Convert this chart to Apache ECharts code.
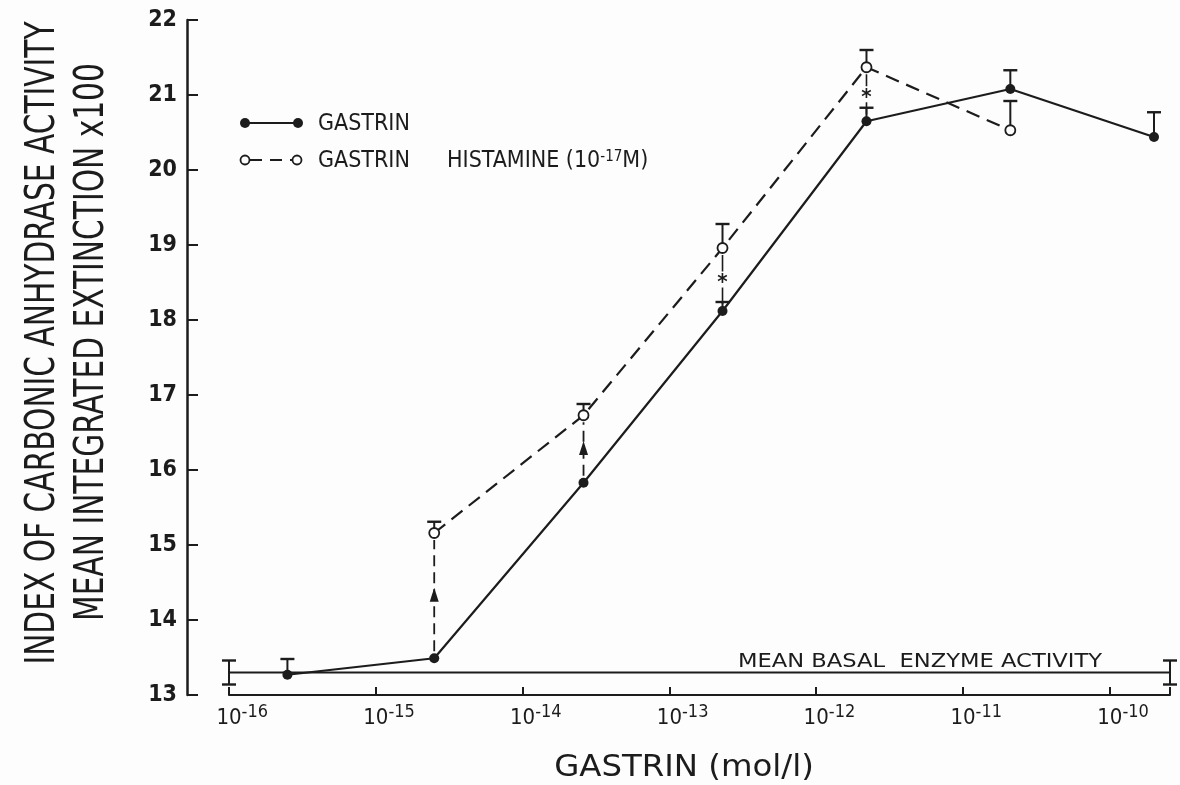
<!DOCTYPE html>
<html><head><meta charset="utf-8">
<script src="https://cdn.jsdelivr.net/npm/echarts@6/dist/echarts.min.js"></script>
<style>html,body{margin:0;padding:0;background:#fdfdfd}#c{width:1180px;height:785px}</style>
</head><body><div id="c"></div>
<script>
// ---- data ----
const concentrations = [2.5e-16, 2.5e-15, 2.6e-14, 2.3e-13, 2.2e-12, 2.1e-11, 2.0e-10]; // mol/l
const gastrin      = [13.27, 13.49, 15.83, 18.12, 20.65, 21.08, 20.44];
const gastrinSem   = [0.21, 0, 0, 0.12, 0.18, 0.25, 0.33];
const histConc     = [2.5e-15, 2.6e-14, 2.3e-13, 2.2e-12, 2.1e-11];
const histamine    = [15.16, 16.73, 18.96, 21.37, 20.53];
const histSem      = [0.15, 0.15, 0.32, 0.23, 0.39];
const basalMean    = 13.3;
const basalSem     = 0.16;
const basalEnds    = [1e-16, 2.57e-10];
const sigConc      = [2.5e-15, 2.6e-14, 2.3e-13, 2.2e-12];
const sigKind      = ['arrow', 'arrow', 'star', 'star'];
const xMin = 1e-16, xMax = 2.57e-10;
const yMin = 13, yMax = 22, yStep = 1;

const INK = '#1c1c1c';
const FC = '"DejaVu Sans Condensed","DejaVu Sans",sans-serif';
const FN = '"Liberation Sans Narrow","DejaVu Sans Condensed",sans-serif';

const gastrinData = concentrations.map((c, i) => [c, gastrin[i]]);
const histData = histConc.map((c, i) => [c, histamine[i]]);
const errData = [];
concentrations.forEach((c, i) => { if (gastrinSem[i] > 0) errData.push([c, gastrin[i], gastrinSem[i], 0]); });
histConc.forEach((c, i) => { if (histSem[i] > 0) errData.push([c, histamine[i], histSem[i], 0]); });
basalEnds.forEach(c => errData.push([c, basalMean, basalSem, 1]));
const sigData = sigConc.map((c, i) => [c, gastrin[concentrations.indexOf(c)], histamine[histConc.indexOf(c)], sigKind[i] === 'arrow' ? 0 : 1]);

function errorBarItem(params, api) {
  const c = api.value(0), v = api.value(1), e = api.value(2), two = api.value(3);
  const top = api.coord([c, v + e]);
  const base = api.coord([c, two ? v - e : v]);
  const hw = 7;
  const ch = [
    {type: 'line', shape: {x1: top[0], y1: top[1], x2: base[0], y2: base[1]}, style: {stroke: INK, lineWidth: 2}},
    {type: 'line', shape: {x1: top[0] - hw, y1: top[1], x2: top[0] + hw, y2: top[1]}, style: {stroke: INK, lineWidth: 2.4}}
  ];
  if (two) ch.push({type: 'line', shape: {x1: base[0] - hw, y1: base[1], x2: base[0] + hw, y2: base[1]}, style: {stroke: INK, lineWidth: 2.4}});
  return {type: 'group', children: ch};
}

function sigItem(params, api) {
  const c = api.value(0);
  const lo = api.coord([c, api.value(1)]);
  const hi = api.coord([c, api.value(2)]);
  const kind = api.value(3);
  const x = lo[0], y1 = lo[1] - 7, y2 = hi[1] + 7, mid = (lo[1] + hi[1]) / 2;
  const ch = [];
  if (kind === 0) {
    ch.push({type: 'line', shape: {x1: x, y1: y1, x2: x, y2: y2}, style: {stroke: INK, lineWidth: 1.8, lineDash: [11, 6]}});
    ch.push({type: 'polygon', shape: {points: [[x, mid - 8], [x - 4.5, mid + 6], [x + 4.5, mid + 6]]}, style: {fill: INK}});
  } else {
    ch.push({type: 'line', shape: {x1: x, y1: y1, x2: x, y2: mid + 8}, style: {stroke: INK, lineWidth: 1.6}});
    ch.push({type: 'line', shape: {x1: x, y1: mid - 8, x2: x, y2: y2}, style: {stroke: INK, lineWidth: 1.6}});
    ch.push({type: 'text', x: x, y: mid + 4, style: {text: '*', fontSize: 22, fontWeight: 'bold', fontFamily: FC, fill: INK, align: 'center', verticalAlign: 'middle'}});
  }
  return {type: 'group', children: ch};
}

const chart = echarts.init(document.getElementById('c'), null, {renderer: 'canvas'});
chart.setOption({
  animation: false,
  backgroundColor: '#fdfdfd',
  grid: {left: 229, right: 10, top: 20, bottom: 90},
  xAxis: {
    type: 'log', logBase: 10, min: xMin, max: xMax, splitNumber: 7,
    axisLine: {lineStyle: {color: INK, width: 2.2}},
    axisTick: {inside: true, length: 8, lineStyle: {color: INK, width: 2}},
    splitLine: {show: false},
    axisLabel: {
      margin: 8, showMinLabel: true, hideOverlap: false,
      formatter: function (v) {
        const l = Math.log10(v), e = Math.round(l);
        if (Math.abs(l - e) > 0.05) return '';
        return '{p|' + e + '}{b|10}{s|' + e + '}';
      },
      rich: {
        p: {fontFamily: FN, fontSize: 18, color: 'rgba(0,0,0,0)', lineHeight: 14, verticalAlign: 'top'},
        b: {fontFamily: FN, fontSize: 22, color: INK, lineHeight: 30, verticalAlign: 'middle'},
        s: {fontFamily: FN, fontSize: 18, color: INK, lineHeight: 14, verticalAlign: 'top'}
      }
    }
  },
  yAxis: {
    type: 'value', min: yMin, max: yMax, interval: yStep, offset: 42,
    axisLine: {show: true, lineStyle: {color: INK, width: 2.5}},
    axisTick: {show: true, inside: true, length: 11, lineStyle: {color: INK, width: 2}},
    splitLine: {show: false},
    axisLabel: {margin: 10, fontFamily: FN, fontSize: 23, fontWeight: 'bold', color: INK}
  },
  series: [
    {type: 'custom', name: 'sem', renderItem: errorBarItem, data: errData, z: 1, silent: true},
    {type: 'line', name: 'basal', data: basalEnds.map(c => [c, basalMean]), symbol: 'none',
     lineStyle: {color: INK, width: 2}, z: 2, silent: true},
    {type: 'line', name: 'GASTRIN', data: gastrinData, symbol: 'circle', symbolSize: 10,
     itemStyle: {color: INK}, lineStyle: {color: INK, width: 2.2}, z: 3},
    {type: 'line', name: 'GASTRIN HISTAMINE', data: histData, symbol: 'circle', symbolSize: 10,
     itemStyle: {color: '#fdfdfd', borderColor: INK, borderWidth: 1.8},
     lineStyle: {color: INK, width: 2.2, type: [14, 8]}, z: 3},
    {type: 'custom', name: 'sig', renderItem: sigItem, data: sigData, z: 4, silent: true}
  ],
  graphic: [
    // legend
    {type: 'line', shape: {x1: 245, y1: 123, x2: 298, y2: 123}, style: {stroke: INK, lineWidth: 2.2}},
    {type: 'circle', shape: {cx: 245, cy: 123, r: 5}, style: {fill: INK}},
    {type: 'circle', shape: {cx: 298, cy: 123, r: 5}, style: {fill: INK}},
    {type: 'text', x: 318, y: 124, style: {text: 'GASTRIN', fontFamily: FC, fontSize: 23, fill: INK, verticalAlign: 'middle'}},
    {type: 'line', shape: {x1: 250, y1: 160, x2: 292, y2: 160}, style: {stroke: INK, lineWidth: 2.2, lineDash: [12, 8]}},
    {type: 'circle', shape: {cx: 245, cy: 160, r: 4.5}, style: {fill: '#fdfdfd', stroke: INK, lineWidth: 1.8}},
    {type: 'circle', shape: {cx: 297, cy: 160, r: 4.5}, style: {fill: '#fdfdfd', stroke: INK, lineWidth: 1.8}},
    {type: 'text', x: 318, y: 161, style: {text: 'GASTRIN', fontFamily: FC, fontSize: 23, fill: INK, verticalAlign: 'middle'}},
    {type: 'text', x: 447, y: 161, style: {
      text: 'HISTAMINE (10{s|-17}M)', fontFamily: FC, fontSize: 23, fill: INK, verticalAlign: 'middle',
      rich: {s: {fontFamily: FC, fontSize: 15, fill: INK, verticalAlign: 'top', lineHeight: 14}}
    }},
    // basal label
    {type: 'text', x: 738, y: 662, scaleX: 1.19, style: {text: 'MEAN BASAL  ENZYME ACTIVITY', fontFamily: '"DejaVu Sans",sans-serif', fontSize: 19, fill: INK, verticalAlign: 'middle'}},
    // axis titles
    {type: 'text', x: 684, y: 768, scaleX: 1.2, style: {text: 'GASTRIN (mol/l)', fontFamily: FC, fontSize: 30, fill: INK, align: 'center', verticalAlign: 'middle'}},
    {type: 'text', x: 43, y: 343, rotation: Math.PI / 2, scaleY: 1.25, style: {text: 'INDEX OF CARBONIC ANHYDRASE ACTIVITY', fontFamily: FC, fontSize: 33, fill: INK, align: 'center', verticalAlign: 'middle'}},
    {type: 'text', x: 92, y: 342, rotation: Math.PI / 2, scaleY: 1.25, style: {text: 'MEAN INTEGRATED EXTINCTION x100', fontFamily: FC, fontSize: 33, fill: INK, align: 'center', verticalAlign: 'middle'}}
  ]
});
</script></body></html>
